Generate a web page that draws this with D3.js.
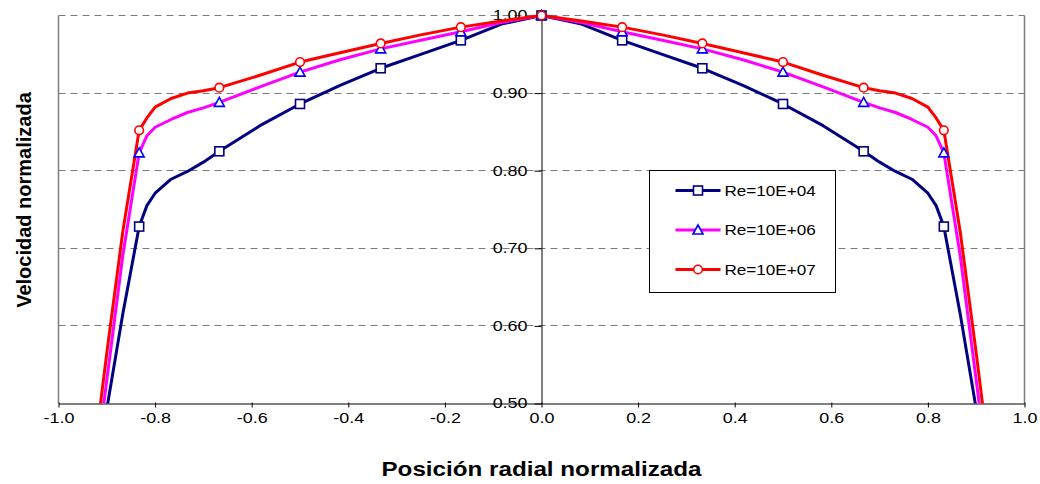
<!DOCTYPE html>
<html>
<head>
<meta charset="utf-8">
<script src="https://cdn.jsdelivr.net/npm/d3@7"></script>
<style>
  body { margin: 0; background: #fff; }
  svg { display: block; font-family: "Liberation Sans", Arial, sans-serif; }
</style>
</head>
<body>
<svg id="chart" width="1040" height="484"></svg>
<script>
// radial positions of the line vertices (whole diameter, wall to wall)
const lineX = [-0.933, -0.9, -0.867, -0.833, -0.817, -0.8, -0.767, -0.733, -0.7, -0.667,
  -0.583, -0.5, -0.417, -0.333, -0.25, -0.167, -0.083, 0,
  0.083, 0.167, 0.25, 0.333, 0.417, 0.5, 0.583,
  0.667, 0.7, 0.733, 0.767, 0.8, 0.817, 0.833, 0.867, 0.9, 0.933];

// positions that carry a marker
const markerX = [-0.833, -0.667, -0.5, -0.333, -0.167, 0, 0.167, 0.333, 0.5, 0.667, 0.833];

const re1e4 = [0.37, 0.493, 0.615, 0.728, 0.755, 0.771, 0.789, 0.799, 0.811, 0.825,
  0.858, 0.886, 0.910, 0.932, 0.950, 0.968, 0.989, 1.0,
  0.989, 0.968, 0.950, 0.932, 0.910, 0.886, 0.858,
  0.825, 0.811, 0.799, 0.789, 0.771, 0.755, 0.728, 0.615, 0.493, 0.37];

const re1e6 = [0.37, 0.53, 0.69, 0.823, 0.845, 0.856, 0.866, 0.875, 0.881, 0.888,
  0.908, 0.927, 0.943, 0.957, 0.968, 0.979, 0.991, 1.0,
  0.991, 0.979, 0.968, 0.957, 0.943, 0.927, 0.908,
  0.888, 0.881, 0.875, 0.866, 0.856, 0.845, 0.823, 0.69, 0.53, 0.37];

const re1e7 = [0.40, 0.565, 0.721, 0.852, 0.868, 0.882, 0.893, 0.900, 0.903, 0.907,
  0.923, 0.940, 0.952, 0.964, 0.975, 0.985, 0.993, 1.0,
  0.993, 0.985, 0.975, 0.964, 0.952, 0.940, 0.923,
  0.907, 0.903, 0.900, 0.893, 0.882, 0.868, 0.852, 0.721, 0.565, 0.40];

const seriesNames = ['Re=10E+04', 'Re=10E+06', 'Re=10E+07'];
const xTicks = [-1.0, -0.8, -0.6, -0.4, -0.2, 0.0, 0.2, 0.4, 0.6, 0.8, 1.0];
const yTicks = [0.5, 0.6, 0.7, 0.8, 0.9, 1.0];

const series = [
  {name: seriesNames[0], values: re1e4, line: '#000080', mark: '#000080', shape: 'square'},
  {name: seriesNames[1], values: re1e6, line: '#ff00ff', mark: '#0000ff', shape: 'triangle'},
  {name: seriesNames[2], values: re1e7, line: '#ff0000', mark: '#ff0000', shape: 'circle'}
];

const svg = d3.select('#chart');
const plotLeft = 58.5, plotRight = 1024.5, plotTop = 15.5, plotBottom = 403.5;

const x = d3.scaleLinear().domain([-1, 1]).range([plotLeft, plotRight]);
const y = d3.scaleLinear().domain([0.5, 1.0]).range([plotBottom, plotTop]);

// snap 1px lines onto the pixel grid
const crisp = v => Math.round(v - 0.5) + 0.5;

// the exported picture is a little wider than the fonts, so stretch the glyphs
function stretch(sel, k) {
  sel.each(function() {
    const w = this.getComputedTextLength();
    d3.select(this).attr('textLength', w * k).attr('lengthAdjust', 'spacingAndGlyphs');
  });
}

// dashed gridlines
svg.append('g')
  .selectAll('line')
  .data(yTicks.filter(d => d > 0.5))
  .enter().append('line')
  .attr('x1', plotLeft).attr('x2', plotRight)
  .attr('y1', d => crisp(y(d))).attr('y2', d => crisp(y(d)))
  .attr('stroke', '#7a7a7a')
  .attr('stroke-dasharray', '7,5');

// plot area sides
svg.append('g')
  .selectAll('line')
  .data([plotLeft, plotRight])
  .enter().append('line')
  .attr('x1', d => d).attr('x2', d => d)
  .attr('y1', plotTop).attr('y2', plotBottom)
  .attr('stroke', '#808080')
  .attr('stroke-width', 1.5);

// x axis sits on the 0.50 line
const xAxis = svg.append('g')
  .attr('transform', 'translate(0,' + plotBottom + ')')
  .call(d3.axisBottom(x).tickValues(xTicks).tickSize(4).tickSizeOuter(0).tickFormat(d3.format('.1f')));
xAxis.select('.domain').attr('stroke', '#000');
xAxis.selectAll('.tick line').attr('stroke', '#000').attr('y1', -1);
xAxis.selectAll('.tick text')
  .attr('y', 19)
  .attr('dy', 0)
  .attr('font-size', 14)
  .attr('font-family', '"Liberation Sans", Arial, sans-serif')
  .attr('fill', '#000')
  .text(d => d3.format('.1f')(d).replace('−', '-'))
  .call(stretch, 1.28);

// y axis sits at the centre line
const yAxis = svg.append('g')
  .attr('transform', 'translate(' + x(0) + ',0)')
  .call(d3.axisLeft(y).tickValues(yTicks).tickSize(7).tickSizeOuter(0).tickFormat(d3.format('.2f')));
yAxis.select('.domain').attr('stroke', '#000');
yAxis.selectAll('.tick line').attr('stroke', '#000');
yAxis.selectAll('.tick text')
  .attr('x', -14)
  .attr('font-size', 14)
  .attr('font-family', '"Liberation Sans", Arial, sans-serif')
  .attr('fill', '#000')
  .call(stretch, 1.28);

// keep the profiles inside the plot
svg.append('clipPath').attr('id', 'plot-clip')
  .append('rect')
  .attr('x', plotLeft).attr('y', plotTop - 6)
  .attr('width', plotRight - plotLeft).attr('height', plotBottom - plotTop + 6);

const line = d3.line()
  .x((d, i) => x(lineX[i]))
  .y(d => y(d));

const plot = svg.append('g').attr('clip-path', 'url(#plot-clip)');

plot.selectAll('path.profile')
  .data(series)
  .enter().append('path')
  .attr('class', 'profile')
  .attr('fill', 'none')
  .attr('stroke', d => d.line)
  .attr('stroke-width', 3)
  .attr('stroke-linejoin', 'round')
  .attr('d', d => line(d.values));

function drawMarker(g, shape, color, cx, cy) {
  if (shape === 'square') {
    g.append('rect')
      .attr('x', cx - 4.5).attr('y', cy - 4.5)
      .attr('width', 9).attr('height', 9)
      .attr('fill', '#fff').attr('stroke', color).attr('stroke-width', 1.6);
  } else if (shape === 'triangle') {
    g.append('path')
      .attr('d', 'M' + cx + ',' + (cy - 5) + 'L' + (cx + 5) + ',' + (cy + 4) + 'L' + (cx - 5) + ',' + (cy + 4) + 'Z')
      .attr('fill', '#fff').attr('stroke', color).attr('stroke-width', 1.6);
  } else {
    g.append('circle')
      .attr('cx', cx).attr('cy', cy).attr('r', 4.3)
      .attr('fill', '#fff').attr('stroke', color).attr('stroke-width', 1.6);
  }
}

series.forEach(s => {
  const g = svg.append('g');
  markerX.forEach(mx => {
    const i = lineX.indexOf(mx);
    drawMarker(g, s.shape, s.mark, x(mx), y(s.values[i]));
  });
});

// legend
const legend = svg.append('g').attr('transform', 'translate(649.5,170.5)');
legend.append('rect')
  .attr('width', 186).attr('height', 122)
  .attr('fill', '#fff').attr('stroke', '#000').attr('stroke-width', 1);

series.forEach((s, i) => {
  const row = legend.append('g').attr('transform', 'translate(0,' + (20 + i * 39.5) + ')');
  row.append('line')
    .attr('x1', 26).attr('x2', 71)
    .attr('stroke', s.line).attr('stroke-width', 3);
  drawMarker(row, s.shape, s.mark, 48.5, 0);
  row.append('text')
    .attr('x', 75).attr('dy', '0.36em')
    .attr('font-size', 15)
    .text(s.name)
    .call(stretch, 1.14);
});

// axis titles
svg.append('text')
  .attr('x', x(0)).attr('y', 476)
  .attr('text-anchor', 'middle')
  .attr('font-size', 20).attr('font-weight', 'bold')
  .text('Posición radial normalizada')
  .call(stretch, 1.21);

svg.append('text')
  .attr('transform', 'translate(31,200) rotate(-90)')
  .attr('text-anchor', 'middle')
  .attr('font-size', 20).attr('font-weight', 'bold')
  .text('Velocidad normalizada');
</script>
</body>
</html>
